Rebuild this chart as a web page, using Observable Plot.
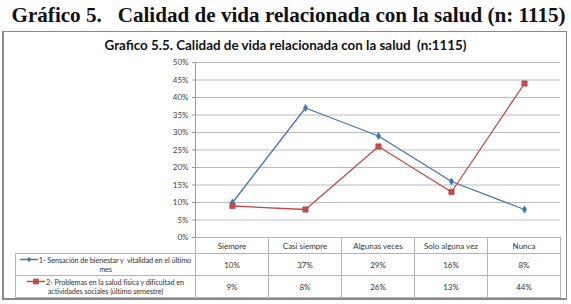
<!DOCTYPE html>
<html><head><meta charset="utf-8">
<script src="https://cdn.jsdelivr.net/npm/d3@7"></script>
<script src="https://cdn.jsdelivr.net/npm/@observablehq/plot@0.6"></script>
<style>
body{margin:0;width:571px;height:304px;position:relative;overflow:hidden;background:#fff;font-family:Lato,"Open Sans",sans-serif;}
#h{position:absolute;left:0;top:2px;width:571px;text-align:center;font:bold 22px "Liberation Serif","Times New Roman",serif;white-space:pre;color:#111;transform:scaleX(0.96);transform-origin:287px 0;}
#frame{position:absolute;left:2px;top:31px;width:565px;height:269px;border:1px solid #8a8a8a;border-left:2px solid #8a8a8a;border-bottom:2px solid #8a8a8a;box-sizing:border-box;}
#chart{position:absolute;left:0;top:0;}
#t{position:absolute;left:0;top:37px;width:571px;text-align:center;font:bold 13.4px Lato,sans-serif;color:#111;white-space:pre;}
#tbl{position:absolute;left:15px;top:237px;border-collapse:collapse;table-layout:fixed;font:8px Lato,sans-serif;color:#333;}
#tbl td{border:1px solid #b5b5b5;text-align:center;padding:0;overflow:hidden;}
#tbl td.empty{border:none;}
#tbl tr.hd td{height:15px;}
#tbl tr.rw td{height:21px;}
#tbl td.lg{line-height:9px;text-align:center;padding:0;font-size:7.3px;letter-spacing:-0.1px;}
</style></head>
<body>
<div id="h"></div>
<div id="frame"></div>
<div id="chart"></div>
<div id="t"></div>
<table id="tbl"></table>
<script>
const categories = ["Siempre","Casi siempre","Algunas veces","Solo alguna vez","Nunca"];
const bienestar = [10,37,29,16,8];
const problemas = [9,8,26,13,44];
const seriesNames = ["1- Sensación de bienestar y  vitalidad en el último mes","2- Problemas en la salud física y dificultad en actividades sociales (último semestre)"];
const yTicks = [0,5,10,15,20,25,30,35,40,45,50];
const heading = "Gráfico 5.   Calidad de vida relacionada con la salud (n: 1115)";
const innerTitle = "Grafico 5.5. Calidad de vida relacionada con la salud  (n:1115)";

const colors = ["#4676b0","#be4b48"];
const seriesValues = [bienestar, problemas];
const data = [];
seriesValues.forEach((vals,si)=>vals.forEach((v,i)=>data.push({serie:seriesNames[si], cat:categories[i], v})));

document.getElementById("h").textContent = heading;
document.getElementById("t").textContent = innerTitle;

const chart = Plot.plot({
  width:571, height:304,
  marginLeft:195, marginRight:11, marginTop:62, marginBottom:67,
  style:{background:"transparent", fontFamily:"Lato, sans-serif", fontSize:"8px", color:"#444", overflow:"visible"},
  x:{type:"point", domain:categories, padding:0.5, axis:null},
  y:{domain:[0,50]},
  color:{domain:seriesNames, range:colors},
  marks:[
    Plot.gridY(yTicks,{stroke:"#bcbcbc", strokeOpacity:1}),
    Plot.axisY({ticks:yTicks, tickFormat:d=>d+"%", tickSize:3, tickPadding:4, stroke:"#999", label:null}),
    Plot.frame({anchor:"left", stroke:"#999"}),
    Plot.line(data,{x:"cat", y:"v", z:"serie", stroke:"serie", strokeWidth:1.3}),
    Plot.dot(data.filter(d=>d.serie===seriesNames[0]),{x:"cat", y:"v", symbol:"diamond", r:2.3, fill:colors[0], stroke:colors[0], strokeWidth:0.5}),
    Plot.dot(data.filter(d=>d.serie===seriesNames[1]),{x:"cat", y:"v", symbol:"square", r:3, fill:"#c0504d", stroke:"#a33c39", strokeWidth:0.6})
  ]
});
document.getElementById("chart").appendChild(chart);

// data table
const tbl = document.getElementById("tbl");
const colg = document.createElement("colgroup");
[180,73,73,73,73,73].forEach(w=>{const c=document.createElement("col");c.style.width=w+"px";colg.appendChild(c);});
tbl.appendChild(colg);
const hr = document.createElement("tr"); hr.className="hd";
const e = document.createElement("td"); e.className="empty"; hr.appendChild(e);
categories.forEach(c=>{const td=document.createElement("td");td.textContent=c;hr.appendChild(td);});
tbl.appendChild(hr);
function key(si){
  const sym = si===0
    ? `<path d="M9,1 L11.5,3.5 L9,6 L6.5,3.5Z" fill="${colors[0]}"/>`
    : `<rect x="6.5" y="1" width="5" height="5" fill="#c0504d" stroke="#a33c39" stroke-width="0.6"/>`;
  return `<svg width="18" height="7" style="vertical-align:-0.5px;margin-right:1px"><line x1="0" x2="18" y1="3.5" y2="3.5" stroke="${colors[si]}" stroke-width="1.5"/>${sym}</svg>`;
}
seriesValues.forEach((vals,si)=>{
  const tr=document.createElement("tr"); tr.className="rw";
  const lg=document.createElement("td"); lg.className="lg";
  lg.innerHTML = key(si) + seriesNames[si].replace(/  /g," &nbsp;");
  tr.appendChild(lg);
  vals.forEach(v=>{const td=document.createElement("td");td.textContent=v+"%";tr.appendChild(td);});
  tbl.appendChild(tr);
});
</script>
</body></html>
